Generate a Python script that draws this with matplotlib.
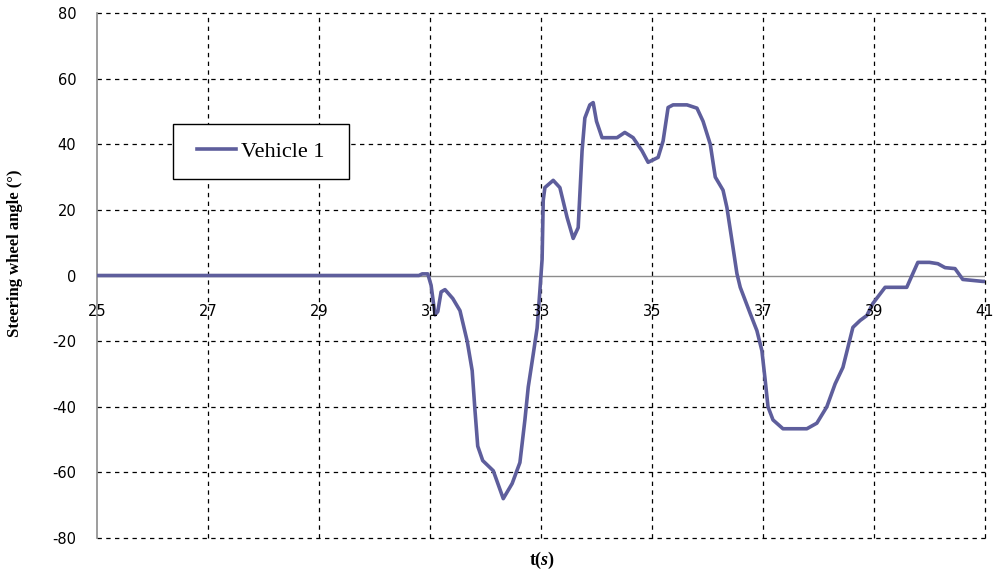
import numpy as np
import matplotlib
matplotlib.use('Agg')
import matplotlib.pyplot as plt
from matplotlib.patches import Rectangle

# datos
tiempo = [25, 30.8, 30.86, 30.96, 31.02, 31.09, 31.14, 31.2, 31.27, 31.41, 31.54, 31.67,
          31.76, 31.81, 31.86, 31.95, 32.14, 32.32, 32.48, 32.62, 32.71, 32.77, 32.86,
          32.93, 32.98, 33.02, 33.04, 33.07, 33.22, 33.34, 33.47, 33.58, 33.67, 33.74,
          33.79, 33.88, 33.94, 34.0, 34.1, 34.37, 34.51, 34.66, 34.82, 34.93, 35.11,
          35.2, 35.29, 35.38, 35.63, 35.81, 35.92, 36.05, 36.14, 36.28, 36.35, 36.44,
          36.53, 36.59, 36.77, 36.89, 36.98, 37.04, 37.09, 37.18, 37.36, 37.79, 37.97,
          38.15, 38.3, 38.44, 38.62, 38.75, 38.87, 38.98, 39.2, 39.59, 39.7, 39.79,
          40.0, 40.15, 40.28, 40.46, 40.6, 40.96, 41.0]
angulo = [0, 0, 0.5, 0.5, -3, -12, -11, -5, -4.3, -7, -10.7, -20,
          -29, -41, -52, -56.4, -59.5, -68, -63.4, -57, -44, -34, -24,
          -16, -4.6, 5, 22.9, 26.8, 29, 26.8, 17.7, 11.3, 14.6, 38,
          48, 52, 52.7, 47, 42, 42, 43.6, 42, 38, 34.5, 36,
          41, 51.2, 52, 52, 51, 47, 40, 30, 26, 20.7, 10.7,
          0.6, -3.6, -11.6, -16.8, -22.9, -32, -40, -44, -46.7, -46.7, -45,
          -40, -33, -28, -15.8, -13.7, -12.2, -8.5, -3.6, -3.6, 0.6, 4,
          4, 3.6, 2.4, 2.1, -1.2, -1.8, -1.8]
ticks_x = [25, 27, 29, 31, 33, 35, 37, 39, 41]
ticks_y = [-80, -60, -40, -20, 0, 20, 40, 60, 80]

plt.rcParams['axes.unicode_minus'] = False
plt.rcParams['mathtext.fontset'] = 'custom'
plt.rcParams['mathtext.rm'] = 'Liberation Serif:bold'
plt.rcParams['mathtext.bf'] = 'Liberation Serif:bold'
plt.rcParams['mathtext.it'] = 'Liberation Serif:italic:bold'

fig = plt.figure(figsize=(10, 5.75), dpi=100)
ax = fig.add_axes([0.097, 0.0643, 0.888, 0.9131])
ax.set_xlim(25, 41)
ax.set_ylim(-80, 80)

# rejilla punteada
for yv in ticks_y:
    if yv != 0:
        ax.axhline(yv, color='black', lw=0.9, ls=(0, (3.5, 3.5)), clip_on=False, zorder=1)
for xv in ticks_x[1:]:
    ax.axvline(xv, color='black', lw=0.9, ls=(0, (3.5, 3.5)), clip_on=False, zorder=1)

ax.axhline(0, color='#8c8c8c', lw=1.0, zorder=2)

ax.plot(tiempo, angulo, color='#5e5e9c', lw=2.6, label='Vehicle 1', zorder=3,
        solid_joinstyle='round')

for s in ['top', 'right', 'bottom']:
    ax.spines[s].set_visible(False)
ax.spines['left'].set_color('#8c8c8c')
ax.spines['left'].set_linewidth(1.2)

ax.set_xticks(ticks_x)
ax.set_yticks(ticks_y)
ax.set_xticklabels([])
ax.tick_params(axis='x', length=0)
ax.tick_params(axis='y', length=0, pad=15, labelsize=10.5)
for lab in ax.get_yticklabels():
    lab.set_fontfamily('DejaVu Sans')

# etiquetas del eje x bajo la linea de cero
for xv in ticks_x:
    ax.annotate(str(xv), (xv, 0), xytext=(0, -28), textcoords='offset pixels',
                ha='center', va='top', fontsize=10.5, family='DejaVu Sans')

fig.text(0.015, 0.56, 'Steering wheel angle (°)', rotation=90, ha='center', va='center',
         fontsize=12, fontweight='bold', family='Liberation Serif')
fig.text(0.542, 0.026, r'$\mathbf{t(}s\mathbf{)}$', ha='center', va='center', fontsize=13)

# caja de la leyenda
caja = Rectangle((0.173, 1 - 179 / 575), 0.176, 55 / 575, transform=fig.transFigure,
                 facecolor='white', edgecolor='black', lw=1.0, zorder=4, clip_on=False)
ax.add_artist(caja)
leg = ax.legend(loc='center left', bbox_to_anchor=(0.197, 1 - 151.5 / 575),
                bbox_transform=fig.transFigure, frameon=False, borderpad=0,
                handlelength=1.75, handletextpad=0.25, borderaxespad=0,
                prop={'family': 'Liberation Serif', 'size': 16})
leg.set_zorder(5)

fig.savefig('out.png', dpi=100)
